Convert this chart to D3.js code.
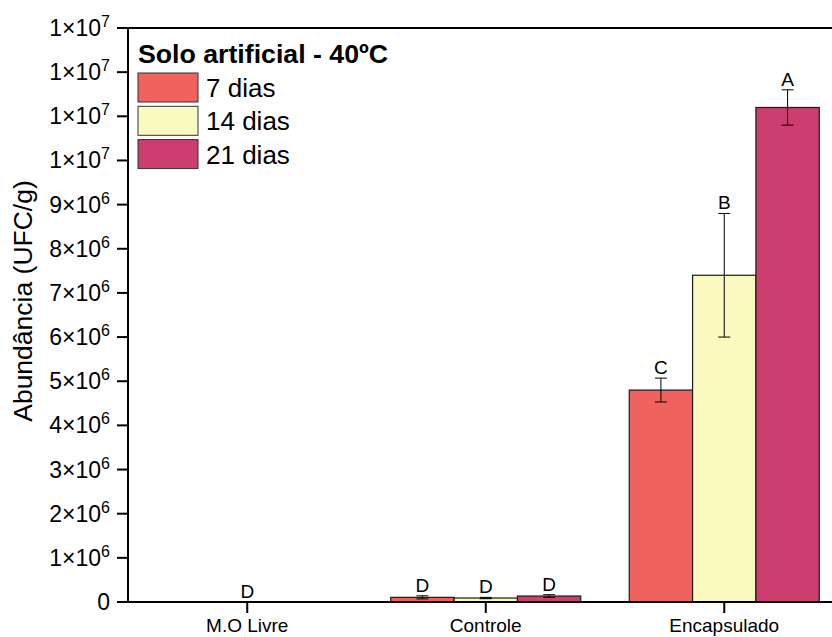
<!DOCTYPE html>
<html>
<head>
<meta charset="utf-8">
<script src="https://cdn.jsdelivr.net/npm/d3@7"></script>
<style>
    body { margin: 0; background: #fff; }
    text { font-family: "Liberation Sans", Arial, sans-serif; fill: #000; }
</style>
</head>
<body>
<div id="chart"></div>
<script>
const categories = ['M.O Livre', 'Controle', 'Encapsulado'];
const seriesNames = ['7 dias', '14 dias', '21 dias'];
const seriesColors = ['#EF625E', '#FAFAC0', '#CC3E6F'];

// mean abundance (UFC/g) per category, one array per series
const means7 = [0, 1.05e5, 4.80e6];
const means14 = [0, 0.90e5, 7.40e6];
const means21 = [0, 1.35e5, 1.12e7];

// error bar half-lengths
const err7 = [0, 0.35e5, 0.27e6];
const err14 = [0, 0.15e5, 1.40e6];
const err21 = [0, 0.30e5, 0.40e6];

// significance letters
const letters7 = ['', 'D', 'C'];
const letters14 = ['D', 'D', 'B'];
const letters21 = ['', 'D', 'A'];

const yTicks = [0, 1e6, 2e6, 3e6, 4e6, 5e6, 6e6, 7e6, 8e6, 9e6, 1e7, 1.1e7, 1.2e7, 1.3e7];
const yTickLabels = ['0', '1×10^6', '2×10^6', '3×10^6', '4×10^6', '5×10^6', '6×10^6', '7×10^6',
    '8×10^6', '9×10^6', '1×10^7', '1×10^7', '1×10^7', '1×10^7'];

const series = [
    { name: seriesNames[0], color: seriesColors[0], means: means7, errs: err7, letters: letters7 },
    { name: seriesNames[1], color: seriesColors[1], means: means14, errs: err14, letters: letters14 },
    { name: seriesNames[2], color: seriesColors[2], means: means21, errs: err21, letters: letters21 }
];

const W = 832, H = 637;
const plotLeft = 128, plotTop = 28, plotBottom = 602, plotRight = 843.5;

const svg = d3.select('#chart').append('svg')
    .attr('width', W)
    .attr('height', H);

const x = d3.scaleBand().domain(categories).range([plotLeft, plotRight]);
const xs = d3.scaleBand().domain(seriesNames).range([0, x.bandwidth()]).paddingOuter(0.383);
const y = d3.scaleLinear().domain([0, 1.3e7]).range([plotBottom, plotTop]);

// bars
const rows = [];
series.forEach(s => {
    categories.forEach((c, i) => {
        rows.push({ cat: c, s: s, mean: s.means[i], err: s.errs[i], letter: s.letters[i] });
    });
});

svg.append('g').selectAll('rect')
    .data(rows.filter(d => d.mean > 0))
    .enter().append('rect')
    .attr('x', d => x(d.cat) + xs(d.s.name))
    .attr('y', d => y(d.mean))
    .attr('width', xs.bandwidth())
    .attr('height', d => y(0) - y(d.mean))
    .style('fill', d => d.s.color)
    .style('stroke', '#1a1a1a')
    .style('stroke-width', 1.2);

// error bars
const eb = svg.append('g').selectAll('g')
    .data(rows.filter(d => d.err > 0))
    .enter().append('g')
    .attr('transform', d => `translate(${x(d.cat) + xs(d.s.name) + xs.bandwidth() / 2},0)`)
    .style('stroke', '#000')
    .style('stroke-width', 1);
eb.append('line').attr('x1', 0).attr('x2', 0)
    .attr('y1', d => y(d.mean + d.err)).attr('y2', d => y(d.mean - d.err));
eb.append('line').attr('x1', -6).attr('x2', 6)
    .attr('y1', d => y(d.mean + d.err)).attr('y2', d => y(d.mean + d.err));
eb.append('line').attr('x1', -6).attr('x2', 6)
    .attr('y1', d => y(d.mean - d.err)).attr('y2', d => y(d.mean - d.err));

// letters
svg.append('g').selectAll('text')
    .data(rows.filter(d => d.letter))
    .enter().append('text')
    .attr('x', d => x(d.cat) + xs(d.s.name) + xs.bandwidth() / 2)
    .attr('y', d => y(d.mean + d.err) - 4)
    .attr('text-anchor', 'middle')
    .style('font-size', '19px')
    .text(d => d.letter);

// frame
svg.append('rect')
    .attr('x', plotLeft).attr('y', plotTop)
    .attr('width', plotRight - plotLeft).attr('height', plotBottom - plotTop)
    .style('fill', 'none')
    .style('stroke', '#000')
    .style('stroke-width', 2);

// y axis ticks + labels
const yAxis = svg.append('g');
yTicks.forEach((v, i) => {
    yAxis.append('line')
        .attr('x1', plotLeft - 11).attr('x2', plotLeft)
        .attr('y1', y(v)).attr('y2', y(v))
        .style('stroke', '#000').style('stroke-width', 2);
    const parts = yTickLabels[i].split('^');
    const t = yAxis.append('text')
        .attr('x', plotLeft - 18)
        .attr('y', y(v) + 8)
        .attr('text-anchor', 'end')
        .style('font-size', '23px');
    t.append('tspan').text(parts[0]);
    if (parts[1]) {
        t.append('tspan').attr('dy', -9).style('font-size', '16px').text(parts[1]);
    }
});

// x axis ticks + labels
categories.forEach(c => {
    const cx = x(c) + x.bandwidth() / 2;
    svg.append('line')
        .attr('x1', cx).attr('x2', cx)
        .attr('y1', plotBottom).attr('y2', plotBottom + 11)
        .style('stroke', '#000').style('stroke-width', 2);
    svg.append('text')
        .attr('x', cx).attr('y', 632)
        .attr('text-anchor', 'middle')
        .style('font-size', '19px')
        .text(c);
});

// y title
svg.append('text')
    .attr('transform', 'translate(32,301) rotate(-90)')
    .attr('text-anchor', 'middle')
    .style('font-size', '26.5px')
    .text('Abundância (UFC/g)');

// legend
const legend = svg.append('g');
legend.append('text')
    .attr('x', 138).attr('y', 63)
    .style('font-size', '26.7px')
    .style('font-weight', 'bold')
    .text('Solo artificial - 40ºC');
series.forEach((s, i) => {
    legend.append('rect')
        .attr('x', 138).attr('y', 73 + i * 33.3)
        .attr('width', 60).attr('height', 29)
        .style('fill', s.color)
        .style('stroke', '#333').style('stroke-width', 1);
    legend.append('text')
        .attr('x', 206).attr('y', 97 + i * 33.3)
        .style('font-size', '26px')
        .text(s.name);
});
</script>
</body>
</html>
